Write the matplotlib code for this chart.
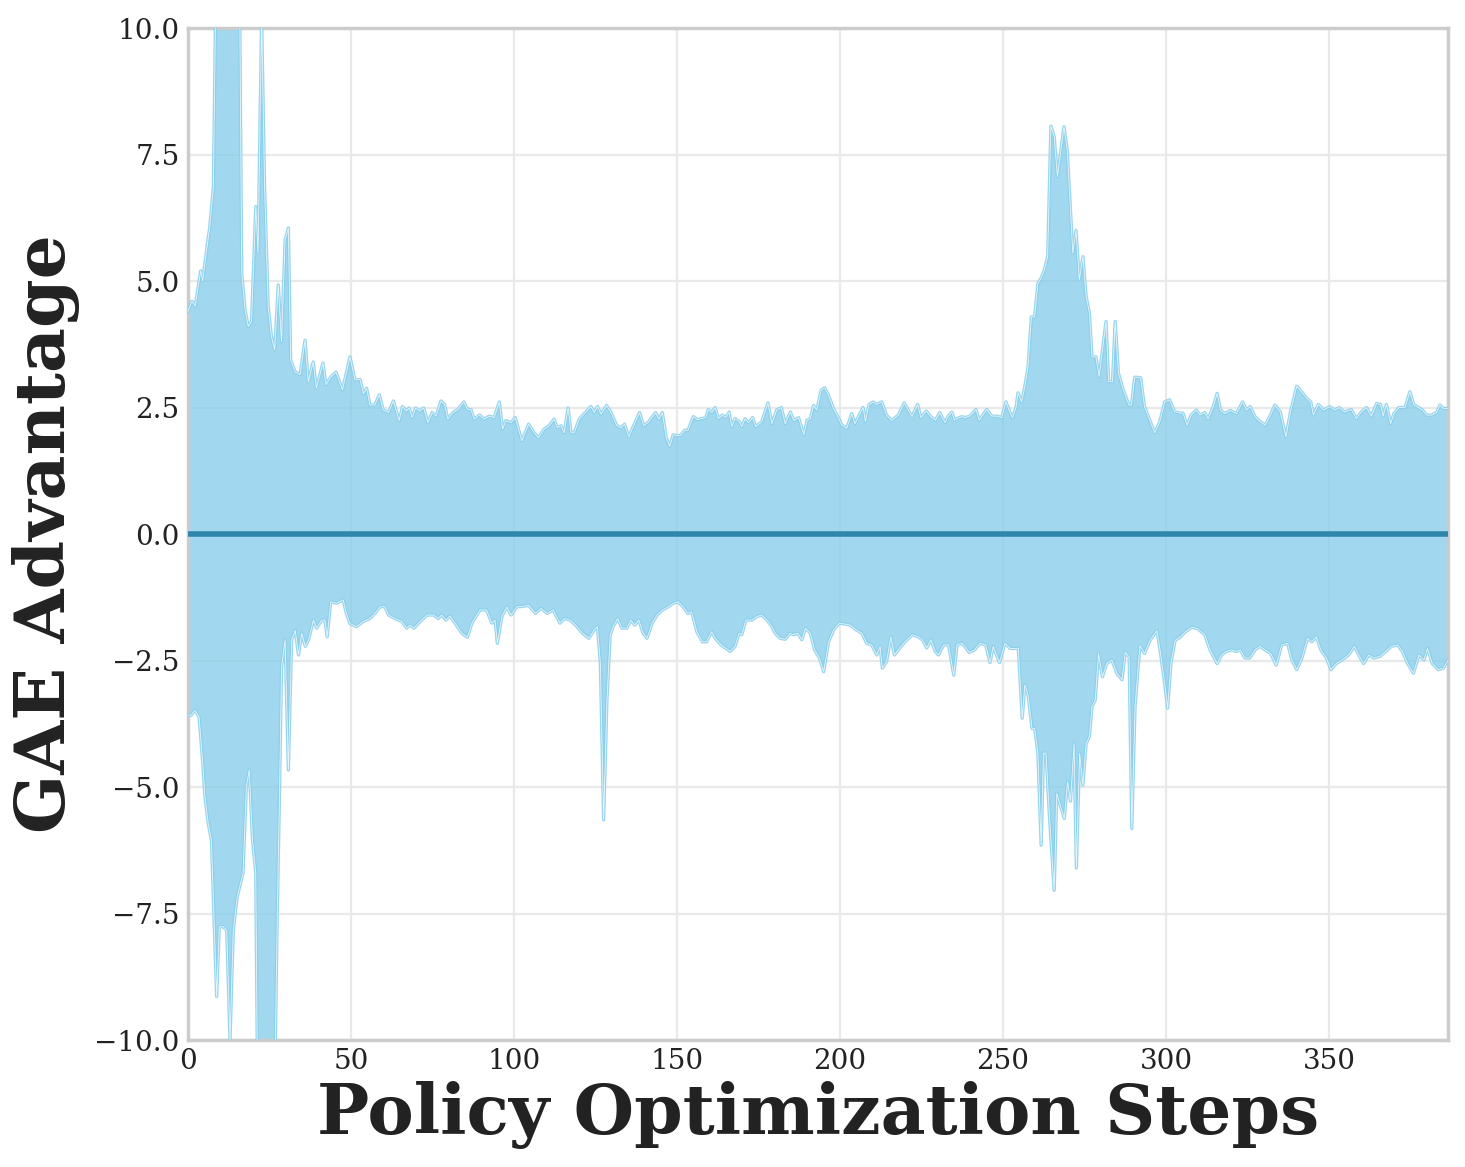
import numpy as np
import matplotlib
matplotlib.use("Agg")
import matplotlib.pyplot as plt

# upper envelope of the GAE advantage band (step, value)
hi_steps = [0, 1.2, 2.2, 3.9, 4.5, 5.7, 6.7, 7.8, 8.5, 10, 12, 14, 15.8, 16.5, 17.5, 18.5, 19.5,
            20.8, 21.5, 22.0, 22.6, 23.5, 24.6, 25.6, 26.6, 27.7, 28.7, 29.8, 30.8, 31.5, 32.9,
            34.4, 35.9, 36.9, 38.4, 39.4, 41.4, 42.3, 43.8, 45.4, 47.4, 49.7, 51.2, 52.8, 53.8,
            54.8, 55.8, 57.3, 58.7, 59.9, 61.5, 63, 64.8, 65.8, 67, 67.8, 68.8, 69.8, 71, 72.3,
            73.6, 74.9, 76.1, 77.6, 78.7, 79.7, 81.3, 82.8, 84.6, 85.8, 86.8, 87.8, 89.4, 90.9,
            92.4, 93.9, 95.5, 96.5, 97.5, 99.1, 100.4, 102.4, 104.5, 106.2, 107.5, 109.2, 110.8,
            112.3, 113.3, 114.4, 115.4, 116.6, 117.5, 118.5, 120, 121.9, 123.6, 124.6, 125.6,
            126.7, 128.4, 129.8, 131.5, 132.9, 133.9, 135.2, 136.7, 138.5, 139.8, 141.1, 143.4,
            144.5, 145.5, 146.7, 147.8, 148.8, 150.9, 152.4, 153.4, 155, 156.3, 157.6, 158.8,
            159.6, 160.7, 161.7, 162.7, 163.9, 165, 166, 166.8, 167.8, 169.1, 169.9, 170.9,
            171.9, 173.2, 174.2, 176, 177.9, 179.1, 180.6, 182, 183.2, 184.8, 185.8, 187.3,
            188.9, 189.9, 190.9, 191.9, 192.9, 194.2, 195.3, 196.5, 198, 199.5, 200.6, 202.1,
            203.6, 204.6, 205.9, 207.1, 207.8, 208.9, 210.2, 211.2, 212.8, 214.3, 215.8, 217.9,
            219.7, 220.9, 222.1, 223.8, 224.8, 226.5, 228.1, 229.3, 230.6, 232.2, 233.2, 234.3,
            235.1, 235.8, 237.4, 238.3, 239.9, 241.7, 242.7, 245, 246.5, 248.1, 249.6, 250.9,
            252.1, 252.9, 254, 254.6, 255.7, 256.7, 257.7, 258.7, 259.7, 260.7, 261.7, 262.7,
            263.7, 264.7, 265.7, 266.7, 267.4, 268.7, 269.7, 270.7, 271.4, 272.4, 273.4, 274.5,
            275.5, 276.5, 277.3, 278.5, 279.5, 280.9, 281.6, 282.4, 283.6, 284.4, 285.4, 286.9,
            288.6, 289.4, 290.4, 292.2, 293.4, 295, 296.5, 298, 299.6, 301.1, 302.6, 304.2,
            305.2, 306.5, 307.7, 309.3, 310.4, 311.9, 312.9, 314.5, 315.7, 316.7, 318, 319.8,
            321.6, 323.5, 324.7, 325.8, 327.3, 328.9, 330.4, 331.9, 333.4, 335, 336.8, 338.3,
            340.1, 341.6, 343.2, 344.4, 345.2, 346.7, 348.4, 350.2, 351.8, 353.1, 354.8, 356.8,
            358.4, 359.9, 361.5, 363, 364.6, 365.8, 366.6, 367.6, 368.9, 369.9, 371.5, 373.3,
            374.8, 376, 377.4, 378.7, 379.9, 381.5, 383, 384, 385.1, 386.3]
hi_vals = [4.4, 4.6, 4.5, 5.2, 5.0, 5.6, 6.07, 6.86, 10.5, 12.5, 13.5, 12.8, 11.0, 5.15, 4.43, 4.1, 4.2,
           6.47, 5.55, 7.65, 10.2, 6.86, 4.5, 3.9, 3.64, 4.92, 3.8, 5.81, 6.05, 3.44, 3.2,
           3.15, 3.83, 3.0, 3.4, 2.88, 3.38, 2.95, 3.1, 3.2, 2.85, 3.5, 3.05, 3.05, 2.77,
           2.88, 2.55, 2.55, 2.75, 2.45, 2.40, 2.63, 2.24, 2.52, 2.43, 2.49, 2.3, 2.49, 2.43, 2.49,
           2.2, 2.4, 2.33, 2.63, 2.56, 2.27, 2.40, 2.46, 2.61, 2.46, 2.46, 2.27, 2.35, 2.27,
           2.33, 2.3, 2.61, 2.07, 2.24, 2.2, 2.3, 1.84, 2.17, 2.0, 1.9, 2.07, 2.14,
           2.27, 2.1, 2.14, 2.0, 2.49, 2.0, 2.0, 2.27, 2.4, 2.52, 2.4, 2.52,
           2.37, 2.54, 2.40, 2.14, 2.10, 2.17, 1.92, 2.14, 2.40, 2.14, 2.2, 2.40,
           2.27, 2.40, 1.9, 1.73, 1.96, 1.94, 2.05, 2.05, 2.32, 2.26, 2.28, 2.30,
           2.46, 2.4, 2.5, 2.28, 2.35, 2.30, 2.41, 2.12, 2.28, 2.22, 2.12, 2.28,
           2.2, 2.30, 2.12, 2.22, 2.59, 2.18, 2.45, 2.5, 2.18, 2.41, 2.24, 2.30,
           1.96, 2.25, 2.28, 2.54, 2.45, 2.84, 2.89, 2.74, 2.48, 2.30, 2.15, 2.09,
           2.38, 2.18, 2.35, 2.5, 2.22, 2.56, 2.61, 2.56, 2.61, 2.35, 2.24, 2.35,
           2.59, 2.45, 2.32, 2.56, 2.30, 2.43, 2.30, 2.25, 2.40, 2.2, 2.33, 2.41,
           2.25, 2.28, 2.32, 2.30, 2.33, 2.46, 2.25, 2.46, 2.33, 2.33, 2.30, 2.61,
           2.41, 2.30, 2.50, 2.79, 2.61, 2.91, 3.31, 4.29, 4.29, 4.95, 5.06, 5.22,
           5.48, 8.06, 7.85, 7.06, 7.4, 8.05, 7.59, 6.4, 5.55, 6.0, 5.02, 5.48,
           4.69, 4.37, 3.5, 3.5, 3.11, 3.83, 4.2, 3.01, 3.01, 4.2, 3.18, 2.85,
           2.55, 2.55, 3.10, 3.09, 2.52, 2.25, 2.0, 2.2, 2.61, 2.65, 2.42, 2.39,
           2.39, 2.15, 2.35, 2.45, 2.35, 2.40, 2.27, 2.52, 2.78, 2.45, 2.38, 2.44,
           2.38, 2.61, 2.45, 2.52, 2.32, 2.22, 2.15, 2.33, 2.55, 2.42, 1.92, 2.45,
           2.92, 2.81, 2.68, 2.61, 2.35, 2.56, 2.45, 2.52, 2.45, 2.50, 2.41, 2.46,
           2.28, 2.41, 2.50, 2.33, 2.58, 2.56, 2.33, 2.56, 2.18, 2.38, 2.50, 2.50,
           2.81, 2.56, 2.50, 2.45, 2.35, 2.35, 2.40, 2.55, 2.48, 2.48]

# lower envelope (step, value)
lo_steps = [0, 1, 2.1, 3.4, 4.4, 5.2, 6.2, 7.2, 8.8, 9.6, 10.8, 11.9, 12.9, 13.9, 15.1, 16.9, 17.9,
            18.8, 19.8, 20.8, 21.3, 23, 25, 26.7, 27.4, 28.2, 28.7, 29.8, 30.8, 31.8, 32.9, 33.9,
            34.9, 36, 37, 38.5, 39.5, 41, 42, 42.7, 43.8, 45.6, 47.6, 48.6, 49.7, 51.7, 53.7,
            55.8, 57.3, 58.9, 60.4, 61.5, 63.5, 65.6, 67.1, 68.1, 69.3, 71.2, 73.4, 75.3, 76.8,
            77.8, 79.1, 80.4, 81.9, 84, 85.7, 87.1, 89.6, 91.6, 93.2, 94.2, 94.9, 96.3, 97.8,
            99.1, 100.9, 102.8, 104.5, 106.6, 108.3, 110.2, 112, 114.1, 115.5, 117.2, 118.9,
            121, 123, 124.5, 125.6, 126.5, 127.5, 128.5, 129.5, 130.4, 131.8, 133.1, 134.6,
            135.9, 137, 138.3, 139.6, 140.8, 142.4, 143.9, 145.6, 147.3, 148.8, 150.4, 151.9,
            153.3, 154.5, 156.1, 157.8, 159.1, 160.6, 161.7, 163.5, 164.8, 166.3, 167.8, 169.1,
            169.9, 171.1, 173, 174.5, 176, 177.6, 179.1, 180.1, 181.6, 183.2, 184.7, 185.7,
            187.1, 188.3, 189.4, 190.9, 192.2, 193.7, 195, 196.5, 198, 199.8, 201.6, 203.1,
            205.1, 206.7, 208.2, 209.7, 211.3, 212.3, 213, 214.3, 215.6, 216.7, 217.9, 219.9,
            222.2, 224, 225.3, 226.6, 227.9, 229.2, 230.2, 231.8, 233.3, 234.9, 235.9, 237.4,
            238.3, 239.6, 241.3, 242.9, 244.7, 246, 247, 248.9, 250.6, 252.2, 254.7, 255.9,
            256.7, 257.7, 258.9, 259.7, 260.7, 261.7, 262.4, 263.2, 264.2, 265.7, 266.5, 267.2,
            268.8, 269.8, 270.7, 271.8, 272.5, 273.5, 274.5, 275.5, 276.5, 277.3, 278.3, 279.3,
            280.5, 281.8, 283.4, 284.9, 286.5, 287.5, 288.7, 289.5, 290.5, 292, 293.4, 295.1,
            297.2, 298.2, 299.7, 300.5, 301.5, 302.8, 304.3, 305.8, 307.9, 309.7, 311.9, 313.5,
            315.7, 317, 318.5, 320.1, 321.6, 322.8, 324.2, 325.7, 327.3, 328.8, 330.4, 332.1,
            333.8, 335.5, 337.3, 338.6, 340.1, 341.7, 343.4, 344.7, 346.1, 347.5, 349.2, 350.6,
            352.2, 354, 356, 357.8, 359.1, 360.6, 362.2, 363.7, 365.6, 367.4, 369.1, 371,
            372.5, 374.1, 375.9, 377.6, 379.1, 380.2, 381.7, 383.5, 385.1, 386.6]
lo_vals = [-3.58, -3.58, -3.48, -3.61, -4.40, -5.19, -5.71, -6.05, -9.14, -7.76, -7.76, -7.83, -10.0,
           -7.83, -7.17, -6.7, -4.99, -4.66, -6.05, -6.7, -10.5, -12.0, -11.5, -10.5, -7.5, -4.66,
           -2.62, -2.09, -4.66, -2.09, -1.90, -2.39, -1.96, -2.22, -2.09, -1.70, -1.86, -1.70,
           -1.70, -2.03, -1.34, -1.37, -1.30, -1.57, -1.77, -1.83, -1.73, -1.67, -1.57, -1.44,
           -1.43, -1.60, -1.67, -1.73, -1.86, -1.80, -1.86, -1.73, -1.60, -1.60, -1.67, -1.60,
           -1.70, -1.62, -1.76, -1.96, -2.04, -1.76, -1.50, -1.50, -1.76, -1.70, -2.16, -1.63,
           -1.44, -1.60, -1.44, -1.43, -1.41, -1.57, -1.47, -1.57, -1.50, -1.76, -1.67, -1.70,
           -1.80, -1.96, -2.06, -1.90, -1.83, -2.55, -5.65, -3.3, -2.0, -1.83, -1.67, -1.86,
           -1.86, -1.70, -1.80, -1.70, -1.96, -2.06, -1.76, -1.60, -1.50, -1.44, -1.37, -1.34,
           -1.44, -1.57, -1.54, -1.93, -2.13, -2.13, -1.93, -2.06, -2.19, -2.25, -2.32, -2.22,
           -1.96, -1.99, -1.70, -1.70, -1.63, -1.60, -1.70, -1.83, -1.96, -2.06, -2.08, -1.96,
           -1.99, -1.96, -2.09, -1.86, -1.96, -2.29, -2.45, -2.72, -2.13, -1.90, -1.76, -1.78,
           -1.80, -1.90, -1.96, -2.16, -2.19, -2.39, -2.22, -2.65, -2.52, -2.03, -2.39, -2.29,
           -2.13, -1.99, -2.03, -2.09, -2.25, -2.09, -2.32, -2.39, -2.19, -2.19, -2.79, -2.19,
           -2.16, -2.22, -2.34, -2.29, -2.16, -2.19, -2.54, -2.22, -2.54, -2.16, -2.26, -2.26,
           -3.64, -2.98, -3.18, -3.84, -3.84, -4.33, -6.15, -4.33, -4.33, -5.52, -7.04, -5.12,
           -5.28, -5.62, -4.89, -5.28, -4.14, -6.60, -4.33, -4.96, -4.14, -4.0, -3.41, -3.28,
           -2.36, -2.82, -2.56, -2.49, -2.75, -2.88, -2.33, -2.43, -5.82, -3.41, -2.20, -2.36,
           -2.10, -1.91, -2.30, -3.01, -3.44, -2.56, -2.10, -2.04, -1.94, -1.84, -1.87, -1.99,
           -2.29, -2.56, -2.39, -2.32, -2.29, -2.32, -2.29, -2.45, -2.45, -2.29, -2.22, -2.29,
           -2.36, -2.59, -2.19, -2.16, -2.49, -2.68, -2.45, -2.06, -2.13, -2.03, -2.29, -2.45,
           -2.68, -2.56, -2.49, -2.39, -2.22, -2.39, -2.56, -2.39, -2.45, -2.42, -2.32, -2.22,
           -2.19, -2.32, -2.56, -2.75, -2.39, -2.49, -2.26, -2.56, -2.68, -2.65, -2.49]

x_max = 386.5
fill_color = "skyblue"
mean_color = "#2e86ab"

plt.rcParams["font.family"] = "DejaVu Serif"
fig, ax = plt.subplots(figsize=(14.65, 11.67), dpi=100)
fig.subplots_adjust(left=0.1283, right=0.9884, top=0.976, bottom=0.1088)

ax.grid(True, color="#e9e9e9", linewidth=1.6, zorder=0)
ax.set_axisbelow(True)

# band: upper envelope then lower envelope reversed
poly_x = np.concatenate([hi_steps, lo_steps[::-1]])
poly_y = np.concatenate([hi_vals, lo_vals[::-1]])
ax.fill(poly_x, poly_y, color=fill_color, alpha=0.78, linewidth=0, zorder=2)
for xs, ys in [(hi_steps, hi_vals), (lo_steps, lo_vals)]:
    ax.plot(xs, ys, color=fill_color, linewidth=2.4, alpha=0.85, zorder=3)
    ax.plot(xs, ys, color="white", linewidth=0.6, alpha=0.8, zorder=3)

ax.axhline(0, color=mean_color, linewidth=4, zorder=4)

ax.set_xlim(0, x_max)
ax.set_ylim(-10, 10)
ax.set_xticks([0, 50, 100, 150, 200, 250, 300, 350])
ax.set_yticks([-10, -7.5, -5, -2.5, 0, 2.5, 5, 7.5, 10])
ax.tick_params(labelsize=20, length=0, pad=6, colors="#222222")

for s in ax.spines.values():
    s.set_color("#cccccc")
    s.set_linewidth(2.5)

ax.set_xlabel("Policy Optimization Steps", fontsize=50, fontweight="bold", color="#222222", labelpad=4)
ax.set_ylabel("GAE Advantage", fontsize=50, fontweight="bold", color="#222222", labelpad=10)

fig.savefig("out.png", dpi=100)
